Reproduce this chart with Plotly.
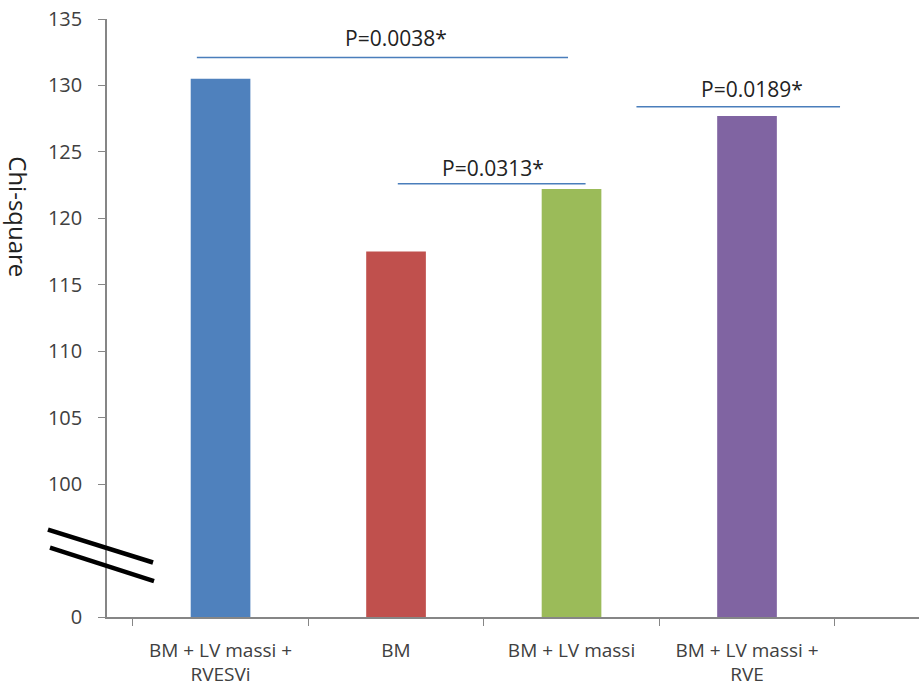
import plotly.graph_objects as go

categories = ["BM + LV massi +<br>RVESVi", "BM", "BM + LV massi", "BM + LV massi +<br>RVE"]
chi_square = [130.5, 117.5, 122.2, 127.7]
bar_colors = ["#4F81BD", "#C0504D", "#9BBB59", "#8064A2"]
tick_values = [90, 100, 105, 110, 115, 120, 125, 130, 135]
tick_labels = ["0", "100", "105", "110", "115", "120", "125", "130", "135"]
p_labels = ["P=0.0038*", "P=0.0313*", "P=0.0189*"]

FONT = "Open Sans, Noto Sans, sans-serif"
TXT = "#404040"
AX = "#868686"

fig = go.Figure()
fig.add_trace(go.Bar(
    x=categories, y=chi_square,
    marker=dict(color=bar_colors, line=dict(width=0)),
    width=0.34,
))

# significance brackets: (x0, x1, y_line, x_text, y_text)
brackets = [
    (-0.135, 1.98, 132.1, 1.0, 133.6),
    (1.01, 2.08, 122.6, 1.55, 123.8),
    (2.37, 3.53, 128.4, 3.03, 129.7),
]
for (x0, x1, yl, xt, yt), lab in zip(brackets, p_labels):
    fig.add_shape(type="line", xref="x", yref="y", x0=x0, x1=x1, y0=yl, y1=yl,
                  line=dict(color="#4A7EBB", width=1.5))
    fig.add_annotation(x=xt, y=yt, xref="x", yref="y", text=lab, showarrow=False,
                       font=dict(family=FONT, size=21, color="#222222"))

# axis break marks
for (x0, y0, x1, y1) in [(-0.0727, 96.58, 0.0567, 94.1), (-0.0702, 95.22, 0.0579, 92.7)]:
    fig.add_shape(type="line", xref="paper", yref="y", x0=x0, y0=y0, x1=x1, y1=y1,
                  line=dict(color="black", width=4.5))

fig.add_annotation(xref="paper", yref="paper", x=-0.11, y=0.669, text="Chi-square",
                   textangle=90, showarrow=False, xanchor="center", yanchor="middle",
                   font=dict(family=FONT, size=24, color="#222222"))

fig.update_layout(
    width=919, height=698,
    margin=dict(l=107, r=0, t=19, b=81),
    paper_bgcolor="white", plot_bgcolor="white",
    showlegend=False,
    font=dict(family=FONT, size=16, color=TXT),
)
fig.update_xaxes(
    range=[-0.647, 3.98], showline=True, linecolor=AX, linewidth=1.5,
    ticks="outside", tickson="boundaries", ticklen=7, tickcolor=AX,
    showgrid=False, tickfont=dict(family=FONT, size=19, color=TXT),
    ticklabelstandoff=15,
)
fig.update_yaxes(
    range=[90, 135], tickvals=tick_values, ticktext=tick_labels,
    showline=True, linecolor=AX, linewidth=1.5, ticks="outside", ticklen=7,
    tickcolor=AX, showgrid=False, zeroline=False,
    tickfont=dict(family=FONT, size=20, color=TXT), ticklabelstandoff=12,
)

fig.write_html("out.html")
